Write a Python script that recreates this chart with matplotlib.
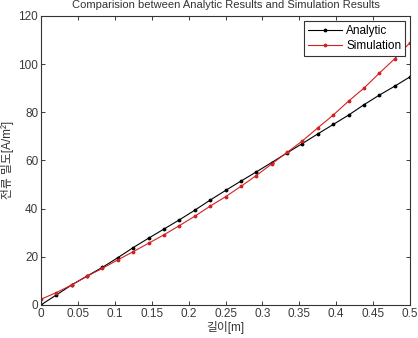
import numpy as np
import matplotlib
matplotlib.use("Agg")
import matplotlib.pyplot as plt

plt.rcParams['font.family'] = ['Liberation Sans', 'Noto Sans CJK KR', 'DejaVu Sans']

# position along conductor [m]
x = np.arange(25) / 48.0

analytic = [0, 4.1, 8.3, 12.0, 15.6, 19.6, 23.8, 27.7, 31.5, 35.3, 39.3, 43.5,
            47.5, 51.4, 55.2, 59.1, 63.1, 67.0, 71.0, 74.9, 78.8, 83.1, 87.1,
            90.8, 94.7]
simulation = [2.35, 5.1, 8.3, 11.9, 15.2, 18.7, 22.1, 25.6, 29.1, 32.9, 36.8,
              41.0, 44.9, 49.2, 53.7, 58.5, 63.3, 68.1, 73.5, 78.8, 84.6, 90.0,
              96.2, 102.2, 108.9]

xticks = [0, 0.05, 0.1, 0.15, 0.2, 0.25, 0.3, 0.35, 0.4, 0.45, 0.5]
xticklabels = ['0', '0.05', '0.1', '0.15', '0.2', '0.25', '0.3', '0.35', '0.4', '0.45', '0.5']
yticks = [0, 20, 40, 60, 80, 100, 120]

fig = plt.figure(figsize=(4.18, 3.38), dpi=100)
ax = fig.add_axes([0.098, 0.098, 0.883, 0.855])

ax.plot(x, analytic, color='black', lw=0.8, marker='.', ms=3.5, label='Analytic')
ax.plot(x, simulation, color='#d42020', lw=0.8, marker='.', ms=3.5, label='Simulation')

ax.set_xlim(0, 0.5)
ax.set_ylim(0, 120)
ax.set_xticks(xticks)
ax.set_xticklabels(xticklabels)
ax.set_yticks(yticks)
ax.tick_params(direction='in', top=True, right=True, labelsize=8.5, length=3,
               width=0.7, pad=2, colors='#3a3a3a')
for s in ax.spines.values():
    s.set_linewidth(0.8)
    s.set_color('#333333')

fig.text(0.54, 0.976, 'Comparision between Analytic Results and Simulation Results',
         fontsize=8, ha='center', va='baseline', color='#333333')
ax.set_xlabel('길이[m]', fontsize=8.5, labelpad=1, color='#333333')
ax.set_ylabel('전류 밀도[A/m²]', fontsize=8.5, labelpad=3, color='#333333')

leg = ax.legend(loc='upper right', fontsize=8.5, fancybox=False, framealpha=1,
                edgecolor='#333333', handlelength=2.9, borderpad=0.35,
                labelspacing=0.25, handletextpad=0.35, borderaxespad=0.4)
leg.get_frame().set_linewidth(0.8)

fig.savefig('out.png', dpi=100)
